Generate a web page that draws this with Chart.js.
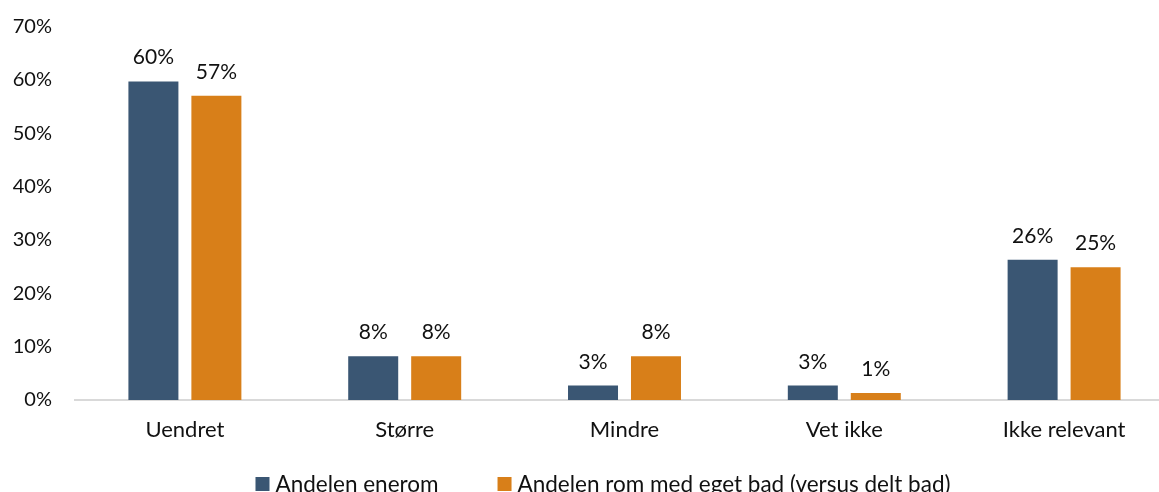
<!DOCTYPE html>
<html lang="no">
<head>
<meta charset="utf-8">
<title>Andelen enerom og rom med eget bad</title>
<script src="https://cdn.jsdelivr.net/npm/chart.js@4.4.1/dist/chart.umd.min.js"></script>
<style>
  html, body { margin: 0; padding: 0; background: #fff; overflow: hidden; }
  #wrap { position: absolute; left: 0; top: 0; }
</style>
</head>
<body>
<div id="wrap">
  <canvas id="bad-chart" width="1174" height="500"></canvas>
</div>
<script>
const categories = ['Uendret', 'Større', 'Mindre', 'Vet ikke', 'Ikke relevant'];
const enerom = [59.7, 8.2, 2.7, 2.7, 26.3];
const egetBad = [57.0, 8.2, 8.2, 1.3, 24.9];
const yTicks = [0, 10, 20, 30, 40, 50, 60, 70];

const BLUE = '#3a5673';
const ORANGE = '#d87f19';
const FONT = 'Lato, "Open Sans", sans-serif';

// percent labels above each bar
const barLabels = {
  id: 'barLabels',
  afterDatasetsDraw(chart) {
    const ctx = chart.ctx;
    ctx.save();
    ctx.font = '21px ' + FONT;
    ctx.fillStyle = '#111';
    ctx.textAlign = 'center';
    ctx.textBaseline = 'alphabetic';
    chart.data.datasets.forEach((ds, i) => {
      chart.getDatasetMeta(i).data.forEach((bar, j) => {
        ctx.fillText(Math.round(ds.data[j]) + '%', bar.x, bar.y - 17);
      });
    });
    ctx.restore();
  }
};

// legend row under the axis labels: square swatch, short gap, then text
const bottomLegend = {
  id: 'bottomLegend',
  afterDraw(chart) {
    const ctx = chart.ctx;
    const box = 14, gap = 6, spacing = 59, centerX = 603, boxTop = 477, baseline = 492;
    ctx.save();
    ctx.font = '22.5px ' + FONT;
    ctx.textBaseline = 'alphabetic';
    ctx.textAlign = 'left';
    const items = chart.data.datasets.map(ds => ({
      text: ds.label, color: ds.backgroundColor, w: box + gap + ctx.measureText(ds.label).width
    }));
    const total = items.reduce((s, it) => s + it.w, 0) + spacing * (items.length - 1);
    let x = centerX - total / 2;
    items.forEach(it => {
      ctx.fillStyle = it.color;
      ctx.fillRect(x, boxTop, box, box);
      ctx.fillStyle = '#111';
      ctx.fillText(it.text, x + box + gap, baseline);
      x += it.w + spacing;
    });
    ctx.restore();
  }
};

new Chart(document.getElementById('bad-chart'), {
  type: 'bar',
  data: {
    labels: categories,
    datasets: [
      { label: 'Andelen enerom', data: enerom, backgroundColor: BLUE, borderWidth: 0 },
      { label: 'Andelen rom med eget bad (versus delt bad)', data: egetBad, backgroundColor: ORANGE, borderWidth: 0 }
    ]
  },
  options: {
    responsive: false,
    animation: false,
    categoryPercentage: 0.573,
    barPercentage: 0.794,
    layout: {
      padding: { top: 26.5, left: 0, right: 0, bottom: 54 }
    },
    scales: {
      x: {
        grid: { display: false, drawTicks: false },
        border: { display: true, color: '#d9d9d9', width: 2 },
        ticks: { padding: 17, color: '#111', font: { family: FONT, size: 22 } },
        afterFit: (scale) => { scale.height = 46; }
      },
      y: {
        min: yTicks[0],
        max: yTicks[yTicks.length - 1],
        grid: { display: false, drawTicks: false },
        border: { display: false },
        afterBuildTicks: (scale) => { scale.ticks = yTicks.map(v => ({ value: v })); },
        ticks: {
          padding: 23,
          color: '#111',
          font: { family: FONT, size: 20 },
          callback: (v) => v + '%'
        },
        afterFit: (scale) => {
          scale.width = 75;
          scale.paddingTop = 0;
          scale.paddingBottom = 0;
        }
      }
    },
    plugins: {
      legend: { display: false },
      tooltip: { enabled: false }
    }
  },
  plugins: [barLabels, bottomLegend]
});
</script>
</body>
</html>
